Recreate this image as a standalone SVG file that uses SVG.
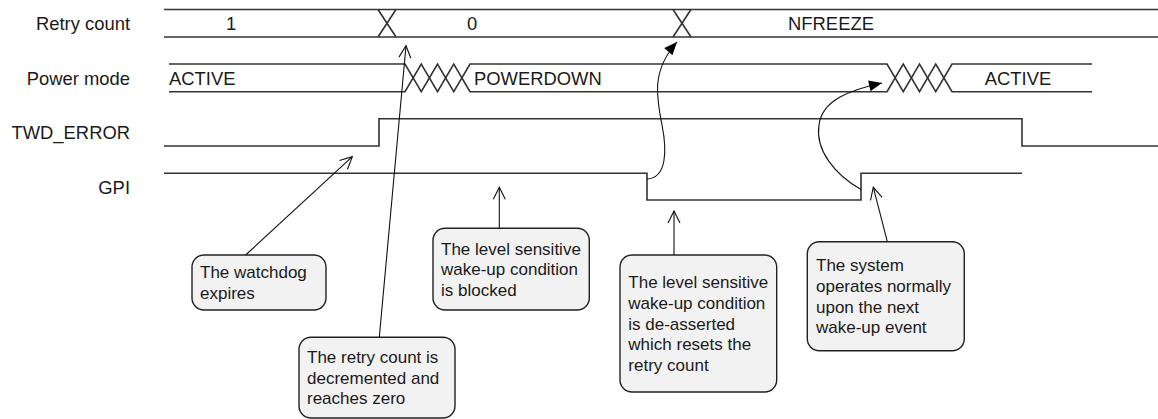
<svg xmlns="http://www.w3.org/2000/svg" width="1158" height="419" viewBox="0 0 1158 419">
<style>
.lbl{font-family:"Liberation Sans",Arial,sans-serif;font-size:18.4px;fill:#1a1a1a}
.bt{font-family:"Liberation Sans",Arial,sans-serif;font-size:17px;fill:#1a1a1a}
.sig{fill:none;stroke:#333;stroke-width:1.6}
.box{fill:#f2f2f2;stroke:#222;stroke-width:1.4}
.cl{fill:none;stroke:#111;stroke-width:1.1}
</style>
<defs>
<marker id="open" viewBox="-14 -8 16 16" refX="0" refY="0" markerWidth="16" markerHeight="16" markerUnits="userSpaceOnUse" orient="auto">
<path d="M-12,-6 L0,0 L-12,6" fill="none" stroke="#111" stroke-width="1.1"/>
</marker>
<marker id="solid" viewBox="-14 -8 16 16" refX="0" refY="0" markerWidth="16" markerHeight="16" markerUnits="userSpaceOnUse" orient="auto">
<path d="M-13,-5.5 L0,0 L-13,5.5 Z" fill="#000"/>
</marker>
</defs>
<g id="labels">
<text class="lbl" x="130" y="29.5" text-anchor="end">Retry count</text>
<text class="lbl" x="130" y="84.5" text-anchor="end">Power mode</text>
<text class="lbl" x="130" y="138.5" text-anchor="end">TWD_ERROR</text>
<text class="lbl" x="130" y="193.5" text-anchor="end">GPI</text>
</g>
<g id="retry-count">
<path class="sig" d="M164,9.5 H1158 M164,37 H1158 M378,9.5 L396,37 M396,9.5 L378,37 M673,9.5 L691,37 M691,9.5 L673,37"/>
<text class="lbl" x="231" y="29.5" text-anchor="middle">1</text>
<text class="lbl" x="472" y="29.5" text-anchor="middle">0</text>
<text class="lbl" x="831" y="29.5" text-anchor="middle">NFREEZE</text>
</g>
<g id="power-mode">
<path class="sig" d="M169,64 H405 L421.25,91.7 L437.5,64 L453.75,91.7 L470,64 H887 L903.25,91.7 L919.5,64 L935.75,91.7 L952,64 H1092"/>
<path class="sig" d="M169,91.7 H405 L421.25,64 L437.5,91.7 L453.75,64 L470,91.7 H887 L903.25,64 L919.5,91.7 L935.75,64 L952,91.7 H1092"/>
<text class="lbl" x="169" y="84.5">ACTIVE</text>
<text class="lbl" x="474" y="84.5">POWERDOWN</text>
<text class="lbl" x="1018" y="84.5" text-anchor="middle">ACTIVE</text>
</g>
<g id="twd-error">
<path class="sig" d="M164,146 H379 V118.7 H1022 V146 H1158"/>
</g>
<g id="gpi">
<path class="sig" d="M164,173.3 H647 V200 H861 V173.3 H1022"/>
</g>
<g id="box-watchdog">
<rect class="box" x="192" y="255" width="134" height="55" rx="12"/>
<text class="bt"><tspan x="200" y="278.2">The watchdog</tspan><tspan x="200" y="298.9">expires</tspan></text>
</g>
<g id="box-retry">
<rect class="box" x="299" y="337.3" width="156" height="80.7" rx="12"/>
<text class="bt"><tspan x="307" y="363">The retry count is</tspan><tspan x="307" y="383.7">decremented and</tspan><tspan x="307" y="404.4">reaches zero</tspan></text>
</g>
<g id="box-blocked">
<rect class="box" x="433" y="228.3" width="156.3" height="81.7" rx="12"/>
<text class="bt"><tspan x="441" y="254.5">The level sensitive</tspan><tspan x="441" y="275.2">wake-up condition</tspan><tspan x="441" y="295.9">is blocked</tspan></text>
</g>
<g id="box-deasserted">
<rect class="box" x="620" y="255" width="156.7" height="137" rx="12"/>
<text class="bt"><tspan x="628.3" y="288.1">The level sensitive</tspan><tspan x="628.3" y="308.8">wake-up condition</tspan><tspan x="628.3" y="329.5">is de-asserted</tspan><tspan x="628.3" y="350.2">which resets the</tspan><tspan x="628.3" y="370.9">retry count</tspan></text>
</g>
<g id="box-normal">
<rect class="box" x="807.3" y="241.7" width="157" height="109" rx="12"/>
<text class="bt"><tspan x="816" y="271.2">The system</tspan><tspan x="816" y="291.9">operates normally</tspan><tspan x="816" y="312.6">upon the next</tspan><tspan x="816" y="333.3">wake-up event</tspan></text>
</g>
<g id="connectors">
<path class="cl" d="M245.7,255 L352.3,156.7" marker-end="url(#open)"/>
<path class="cl" d="M379.3,337.3 L406,45.7" marker-end="url(#open)"/>
<path class="cl" d="M499.3,228.3 L499.3,187.3" marker-end="url(#open)"/>
<path class="cl" d="M674,255 L674,211" marker-end="url(#open)"/>
<path class="cl" d="M887.3,241.7 L873.3,187.3" marker-end="url(#open)"/>
<path class="cl" d="M647,179 C667,178 667,150 662,125 C656,95 652,70 677,42" marker-end="url(#solid)"/>
<path class="cl" d="M861,189.5 C835,175 815,150 819,125 C822,100 850,90 882,83" marker-end="url(#solid)"/>
</g>
</svg>
